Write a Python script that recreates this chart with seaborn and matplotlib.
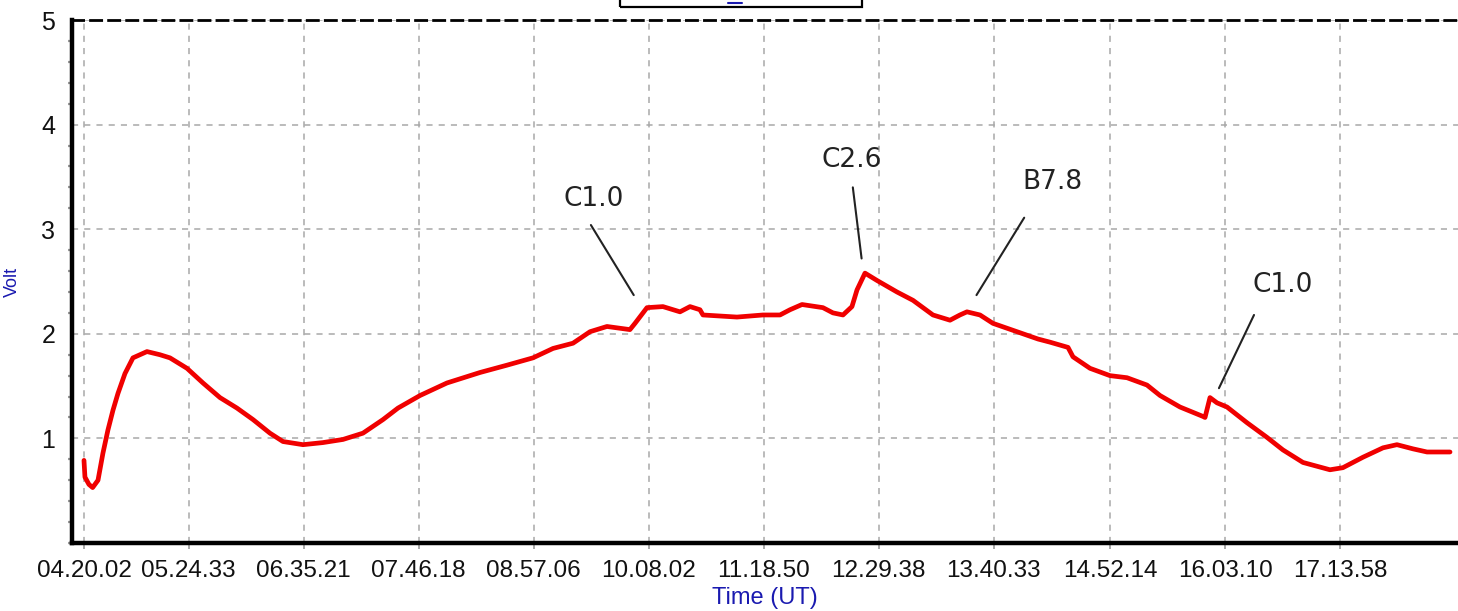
import matplotlib
matplotlib.use("Agg")
import matplotlib.pyplot as plt
from matplotlib.patches import Rectangle
from matplotlib.lines import Line2D
from matplotlib.ticker import MultipleLocator
import seaborn as sns
import pandas as pd

# receiver signal (hours UT, volts)
hours = [4.334, 4.344, 4.385, 4.423, 4.478, 4.529, 4.580, 4.632, 4.683, 4.755,
         4.837, 4.981, 5.114, 5.217, 5.392, 5.556, 5.731, 5.905, 6.070, 6.244,
         6.378, 6.583, 6.788, 6.994, 7.199, 7.405, 7.559, 7.785, 8.062, 8.401,
         8.678, 8.945, 9.151, 9.356, 9.531, 9.705, 9.941, 9.993, 10.116, 10.280,
         10.455, 10.558, 10.660, 10.691, 11.040, 11.307, 11.482, 11.585, 11.708,
         11.923, 12.026, 12.129, 12.221, 12.273, 12.355, 12.478, 12.683, 12.848,
         13.053, 13.228, 13.330, 13.402, 13.536, 13.669, 13.947, 14.132, 14.255,
         14.440, 14.491, 14.666, 14.871, 15.046, 15.251, 15.385, 15.590, 15.826,
         15.847, 15.898, 15.970, 16.073, 16.278, 16.483, 16.647, 16.853, 17.130,
         17.263, 17.469, 17.675, 17.818, 17.983, 18.127, 18.363]
volts = [0.79, 0.63, 0.56, 0.53, 0.60, 0.86, 1.08, 1.27, 1.43, 1.62,
         1.77, 1.83, 1.80, 1.77, 1.67, 1.53, 1.39, 1.29, 1.18, 1.05,
         0.97, 0.94, 0.96, 0.99, 1.05, 1.18, 1.29, 1.41, 1.53, 1.63,
         1.70, 1.77, 1.86, 1.91, 2.02, 2.07, 2.04, 2.10, 2.25, 2.26,
         2.21, 2.26, 2.23, 2.18, 2.16, 2.18, 2.18, 2.23, 2.28,
         2.25, 2.20, 2.18, 2.26, 2.42, 2.58, 2.51, 2.40, 2.32,
         2.18, 2.13, 2.18, 2.21, 2.18, 2.10, 2.01, 1.95, 1.92,
         1.87, 1.78, 1.67, 1.60, 1.58, 1.51, 1.41, 1.30, 1.21,
         1.20, 1.39, 1.34, 1.30, 1.15, 1.01, 0.89, 0.77, 0.70,
         0.72, 0.82, 0.91, 0.94, 0.90, 0.87, 0.87]

tick_labels = ['04.20.02', '05.24.33', '06.35.21', '07.46.18', '08.57.06',
               '10.08.02', '11.18.50', '12.29.38', '13.40.33', '14.52.14',
               '16.03.10', '17.13.58']
y_ticks = [1, 2, 3, 4, 5]

# flare annotations
flare_labels = ['C1.0', 'C2.6', 'B7.8', 'C1.0']
flare_text_xy = [(9.57, 3.29), (12.22, 3.66), (14.28, 3.45), (16.64, 2.47)]
flare_line_from = [(9.54, 3.04), (12.23, 3.40), (13.99, 3.11), (16.35, 2.18)]
flare_line_to = [(9.98, 2.37), (12.32, 2.72), (13.50, 2.37), (15.99, 1.48)]


def to_hours(label):
    h, m, s = [int(p) for p in label.split('.')]
    return h + m / 60 + s / 3600


df = pd.DataFrame({'hours': hours, 'volts': volts})

sns.set_theme(style='white')
plt.rcParams['font.family'] = ['Liberation Sans', 'DejaVu Sans']

fig = plt.figure(figsize=(14.58, 6.11), dpi=100)
ax = fig.add_axes([72 / 1458, 68 / 611, 1386 / 1458, 523 / 611])

sns.lineplot(data=df, x='hours', y='volts', color='#f00000', lw=3.4, ax=ax)

ax.set_xlim(4.211, 18.445)
ax.set_ylim(0, 5)
ax.set_xticks([to_hours(t) for t in tick_labels])
ax.set_xticklabels(tick_labels)
ax.set_yticks(y_ticks)
ax.set_yticklabels([str(v) for v in y_ticks])
ax.yaxis.set_minor_locator(MultipleLocator(0.2))

ax.grid(True, color='#a8a8a8', linestyle=(0, (4, 4)), lw=1.1)
ax.tick_params(axis='x', which='major', length=4, width=1.2, color='#999999',
               labelsize=17.5, pad=8, labelcolor='#111111', bottom=True)
ax.tick_params(axis='y', which='major', length=0, labelsize=18, pad=12,
               labelcolor='#111111')
ax.tick_params(axis='y', which='minor', length=3, width=1.6, color='#999999',
               left=True)

ax.set_xlabel('Time (UT)', color='#1a1ab0', fontsize=17, labelpad=4)
ax.set_ylabel('Volt', color='#1a1ab0', fontsize=13)
ax.yaxis.set_label_coords(-0.037, 0.5)

# spines like the logger software
ax.spines['left'].set_linewidth(3.2)
ax.spines['left'].set_color('black')
ax.spines['bottom'].set_linewidth(3.2)
ax.spines['bottom'].set_color('black')
ax.spines['right'].set_visible(False)
ax.spines['top'].set_color('black')
ax.spines['top'].set_linewidth(2.0)
ax.spines['top'].set_linestyle((0, (4, 2.5)))

for label, txt, p0, p1 in zip(flare_labels, flare_text_xy,
                              flare_line_from, flare_line_to):
    ax.annotate('', xy=p1, xytext=p0,
                arrowprops=dict(arrowstyle='-', color='#222222', lw=1.5,
                                shrinkA=0, shrinkB=0))
    ax.text(txt[0], txt[1], label, ha='center', va='center', fontsize=19,
            color='#222222', family='DejaVu Sans')

# cut-off title box at the top
fig.add_artist(Rectangle((620 / 1458, 604 / 611), 242 / 1458, 0.05,
                         fill=False, edgecolor='black', lw=1.6,
                         transform=fig.transFigure, clip_on=False))
fig.add_artist(Line2D([728 / 1458, 742 / 1458], [608 / 611, 608 / 611],
                      color='#1a1ab0', lw=1.5, transform=fig.transFigure))

plt.savefig('out.png', dpi=100, facecolor='white')
